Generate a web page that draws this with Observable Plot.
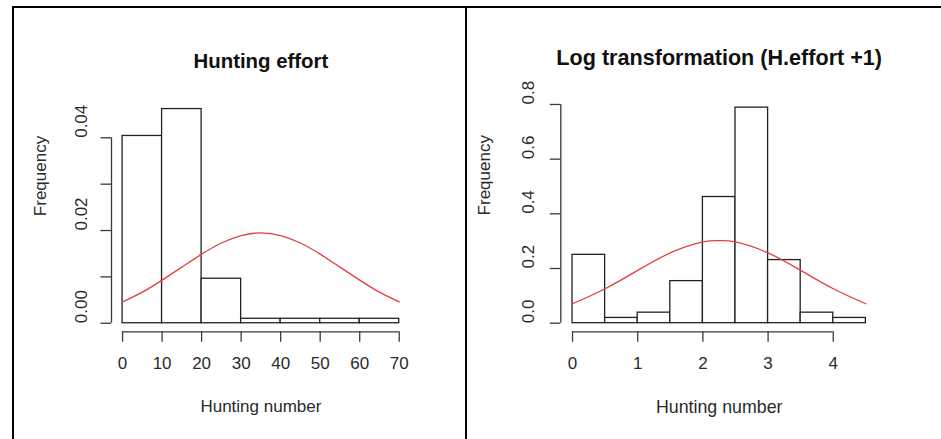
<!DOCTYPE html>
<html>
<head>
<meta charset="utf-8">
<script src="https://cdn.jsdelivr.net/npm/d3@7"></script>
<script src="https://cdn.jsdelivr.net/npm/@observablehq/plot@0.6"></script>
<style>
  html, body { margin: 0; padding: 0; background: #fff; }
  #page { position: relative; width: 941px; height: 439px; overflow: hidden; background: #fff; }
  .panel { position: absolute; top: 0; }
  .border { position: absolute; background: #000; }
</style>
</head>
<body>
<div id="page">
  <div id="left" class="panel" style="left:0px"></div>
  <div id="right" class="panel" style="left:466px"></div>
  <div class="border" style="left:12px; top:6px; width:929px; height:2px"></div>
  <div class="border" style="left:12px; top:6px; width:2px; height:433px"></div>
  <div class="border" style="left:465px; top:6px; width:2px; height:433px"></div>
</div>
<script>
// Raw hunting effort: histogram densities (bin width 10)
const effortBreaks = [0, 10, 20, 30, 40, 50, 60, 70];
const effortDensity = [0.0404, 0.0462, 0.0096, 0.00096, 0.00096, 0.00096, 0.00096];
// Fitted normal curve over the raw effort
const effortCurveX = [0, 5, 10, 15, 20, 25, 30, 35, 40, 45, 50, 55, 60, 65, 70];
const effortCurveY = [0.0046, 0.0067, 0.0093, 0.0121, 0.0149, 0.0173, 0.0189, 0.0195,
                      0.0189, 0.0173, 0.0149, 0.0121, 0.0093, 0.0067, 0.0046];
const effortXTicks = [0, 10, 20, 30, 40, 50, 60, 70];
const effortYTicks = [0, 0.01, 0.02, 0.03, 0.04];
const effortYLabels = [0, 0.02, 0.04];

// log(effort + 1): histogram densities (bin width 0.5)
const logBreaks = [0, 0.5, 1, 1.5, 2, 2.5, 3, 3.5, 4, 4.5];
const logDensity = [0.25, 0.0192, 0.0385, 0.1538, 0.4615, 0.7885, 0.2308, 0.0385, 0.0192];
const logCurveX = [0, 0.5, 1, 1.5, 2, 2.25, 2.5, 3, 3.5, 4, 4.5];
const logCurveY = [0.071, 0.126, 0.193, 0.257, 0.297, 0.302, 0.297, 0.257, 0.193, 0.126, 0.071];
const logXTicks = [0, 1, 2, 3, 4];
const logYTicks = [0, 0.2, 0.4, 0.6, 0.8];
const logYLabels = [0, 0.2, 0.4, 0.6, 0.8];

const FONT = "'Liberation Sans', Arial, Helvetica, sans-serif";
const INK = "#2a2a2a";

// R-style plotting region: data range padded by 4% on each side
function pad(lo, hi) {
  const p = (hi - lo) * 0.04;
  return [lo - p, hi + p];
}

function histPanel(o) {
  const bins = o.density.map((d, i) => ({x1: o.breaks[i], x2: o.breaks[i + 1], density: d}));
  const curve = o.curveX.map((x, i) => ({x, y: o.curveY[i]}));
  const usrX = pad(o.breaks[0], o.breaks[o.breaks.length - 1]);
  const usrY = pad(0, d3.max(o.density));
  return Plot.plot({
    width: o.width,
    height: 439,
    marginLeft: o.marginLeft,
    marginRight: o.marginRight,
    marginTop: o.marginTop,
    marginBottom: 107.7,
    x: {domain: usrX},
    y: {domain: usrY},
    style: {fontFamily: FONT, fontSize: "17px", color: INK, background: "transparent", overflow: "visible"},
    marks: [
      Plot.rect(bins, {x1: "x1", x2: "x2", y1: 0, y2: "density", fill: "white", stroke: "#222", strokeWidth: 1.3, inset: 0}),
      Plot.line(curve, {x: "x", y: "y", curve: "natural", stroke: "#e2403f", strokeWidth: 1.3}),
      // axis lines, R style (detached from the plotting region)
      Plot.ruleY([usrY[0]], {x1: o.xTicks[0], x2: o.xTicks[o.xTicks.length - 1], stroke: "#3a3a3a", strokeWidth: 1.3}),
      Plot.ruleX([usrX[0]], {y1: o.yTicks[0], y2: o.yTicks[o.yTicks.length - 1], stroke: "#3a3a3a", strokeWidth: 1.3}),
      Plot.axisX({ticks: o.xTicks, tickSize: 10.5, tickPadding: 15, tickFormat: (d) => String(d), label: null, stroke: "#3a3a3a", strokeWidth: 1.3, fontSize: 17}),
      Plot.axisY({ticks: o.yTicks, tickSize: 10.5, tickFormat: () => "", label: null, stroke: "#3a3a3a", strokeWidth: 1.3}),
      Plot.text(o.yLabels, {y: (d) => d, text: (d) => d3.format(o.yFormat)(d), frameAnchor: "left", dx: o.yLabelDx, rotate: -90, fontSize: 17, fill: INK}),
      Plot.text(["Frequency"], {frameAnchor: "left", dx: o.yTitleDx, rotate: -90, fontSize: 17, fill: INK}),
      Plot.text(["Hunting number"], {frameAnchor: "bottom", lineAnchor: "middle", dy: 75, fontSize: o.labelSize, fill: INK}),
      Plot.text([o.title], {frameAnchor: "top", lineAnchor: "middle", dy: o.titleDy, fontSize: o.titleSize, fontWeight: "bold", fill: "#111"})
    ]
  });
}

document.getElementById("left").append(histPanel({
  breaks: effortBreaks, density: effortDensity,
  curveX: effortCurveX, curveY: effortCurveY,
  xTicks: effortXTicks, yTicks: effortYTicks, yLabels: effortYLabels, yFormat: ".2f",
  title: "Hunting effort", titleSize: 20.4, titleDy: -39, labelSize: 17,
  width: 466, marginLeft: 111, marginRight: 56.2, marginTop: 100,
  yLabelDx: -30, yTitleDx: -71
}));

document.getElementById("right").append(histPanel({
  breaks: logBreaks, density: logDensity,
  curveX: logCurveX, curveY: logCurveY,
  xTicks: logXTicks, yTicks: logYTicks, yLabels: logYLabels, yFormat: ".1f",
  title: "Log transformation (H.effort +1)", titleSize: 21.6, titleDy: -40.7, labelSize: 17.8,
  width: 475, marginLeft: 94.3, marginRight: 63.9, marginTop: 98.5,
  yLabelDx: -32, yTitleDx: -76
}));
</script>
</body>
</html>
